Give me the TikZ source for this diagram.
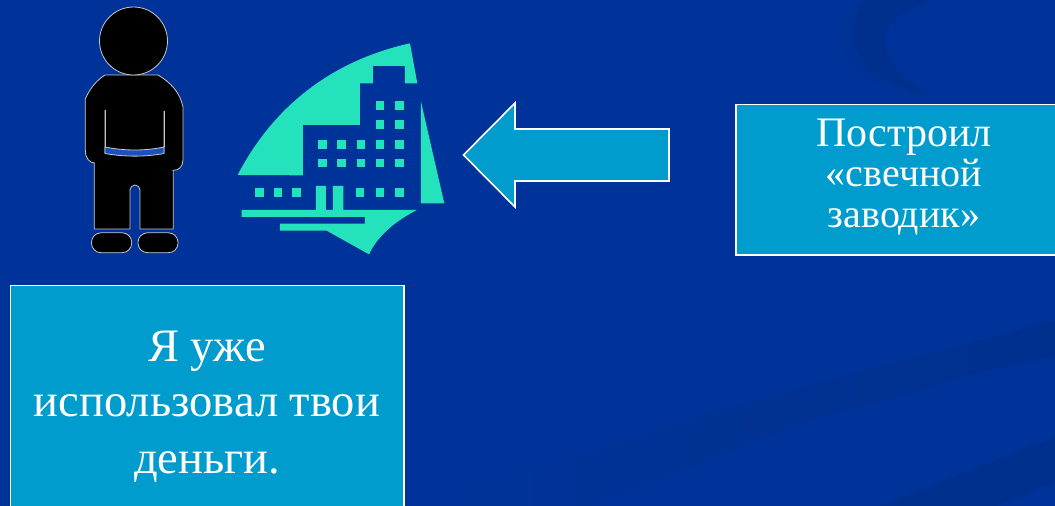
\documentclass[tikz,border=0pt]{standalone}
\usepackage{fontspec}
\setmainfont{Liberation Serif}
\definecolor{bgblue}{HTML}{003399}
\definecolor{bandblue}{HTML}{00308E}
\definecolor{swooshlight}{HTML}{003296}
\definecolor{swooshdark}{HTML}{00308E}
\definecolor{boxblue}{HTML}{009CCE}
\definecolor{mint}{HTML}{24E3BC}
\definecolor{edgegray}{HTML}{C8C8C8}
\definecolor{beltblue}{HTML}{1A50C0}
\tikzset{
  panel/.style={draw=white,line width=1.6pt,fill=boxblue},
  figpart/.style={draw=edgegray,line width=0.8pt,fill=black,line join=round},
  bldg/.style={fill=mint,draw=none},
  saytext/.style={text=white,align=center,inner sep=0pt,anchor=base}
}
\begin{document}
\begin{tikzpicture}[x=1pt,y=-1pt]
\useasboundingbox (0,0) rectangle (1055,506);
\fill[bgblue] (0,0) rectangle (1055,506);
% background swoosh
\fill[swooshlight] (860,0) .. controls (842,15) and (836,40) .. (848,60) .. controls (862,85) and (905,92) .. (945,106) .. controls (915,85) and (890,70) .. (885,42) .. controls (883,25) and (905,10) .. (931,0) -- cycle;
\fill[swooshdark] (866,0) .. controls (852,15) and (850,40) .. (860,58) .. controls (872,78) and (905,88) .. (930,97) .. controls (905,80) and (888,65) .. (885,42) .. controls (883,25) and (905,10) .. (931,0) -- cycle;
% background bands
\shade[left color=bgblue,right color=bandblue,middle color=bandblue!50!bgblue] (430,506) -- (500,482) -- (702,415) -- (1055,320) -- (1055,357) -- (978,373) -- (801,423) -- (592,506) -- cycle;
\fill[bandblue] (879,506) -- (1055,437) -- (1055,482) -- (996,506) -- cycle;
% person
\draw[figpart] (94.3,150) -- (94.3,229) -- (130,229) -- (130,190) arc[start angle=180,end angle=360,radius=5] -- (140,229) -- (173.3,229) -- (173.3,150) -- cycle;
\draw[figpart] (105,75) -- (158,75) .. controls (170,82) and (180,92) .. (183,107) -- (183,160) .. controls (183,174) and (164,174) .. (164,158) -- (164,111) -- (164,147) -- (105,147) -- (105,110) -- (105,152) .. controls (103,167) and (85.3,167) .. (85.3,150) -- (85.3,99) .. controls (90,88) and (97,80) .. (105,75) -- cycle;
\fill (106,108) rectangle (163,150);
\fill (95,153) rectangle (172.5,170);
\draw[edgegray,line width=0.8pt] (105,110) -- (105,147);
\draw[edgegray,line width=0.8pt] (164,111) -- (164,147);
\path[fill=beltblue,draw=edgegray,line width=0.8pt] (105,147) .. controls (125,151) and (145,151) .. (164,147) -- (164,153.5) .. controls (145,157) and (125,157) .. (105,153.5) -- cycle;
\draw[figpart] (133.5,41) circle[radius=34];
\draw[figpart,rounded corners=9.5pt] (91.5,232.8) rectangle (131.7,252.7);
\draw[figpart,rounded corners=9.5pt] (138,232.8) rectangle (178,252.7);
% building
\begin{scope}[shift={(225,35)},x=0.3333pt,y=-0.3333pt]
\fill[bldg] (38,420) .. controls (150,205) and (330,75) .. (555,25) -- (577,145) -- (540,145) -- (540,93) -- (444,93) -- (444,145) -- (405,145) -- (405,270) -- (234,270) -- (234,421) -- cycle;
\fill[bldg] (588,200) -- (658,505) -- (588,505) -- cycle;
\fill[bldg] (50,525) -- (273,525) -- (273,453) -- (303,453) -- (303,525) -- (324,525) -- (324,453) -- (355,453) -- (355,525) -- (575,525) .. controls (510,560) and (460,600) .. (432,658) -- (305,587) -- (165,587) -- (165,566) -- (420,566) -- (420,546) -- (50,546) -- cycle;
\foreach \x/\y in {465/211,524/211,465/269,524/269,
  293/328,349/328,408/328,465/328,524/328,
  293/384,349/384,408/384,465/384,524/384,
  103/473,159/473,215/473,405/473,465/473,524/473}
  \fill[bldg] (\x-13,\y-13) rectangle (\x+13,\y+13);
\end{scope}
% arrow
\draw[panel,line join=miter] (669,129) -- (515,129) -- (515,103) -- (463.5,155) -- (515,207) -- (515,181) -- (669,181) -- cycle;
% boxes
\draw[panel] (736,104.5) rectangle (1058,255);
\draw[panel] (10.5,285.5) rectangle (404,510);
\node[saytext,font=\fontsize{42}{42}\selectfont] (s1) at (904,146) {Построил};
\node[saytext,font=\fontsize{40}{40}\selectfont] (s2) at (904,186) {«свечной};
\node[saytext,font=\fontsize{40}{40}\selectfont] (s3) at (904,227) {заводик»};
\node[saytext,font=\fontsize{46.5}{46.5}\selectfont] (t1) at (207,361) {Я уже};
\node[saytext,font=\fontsize{46.5}{46.5}\selectfont] (t2) at (207,416) {использовал твои};
\node[saytext,font=\fontsize{46.5}{46.5}\selectfont] (t3) at (207,473) {деньги.};
\end{tikzpicture}
\end{document}
